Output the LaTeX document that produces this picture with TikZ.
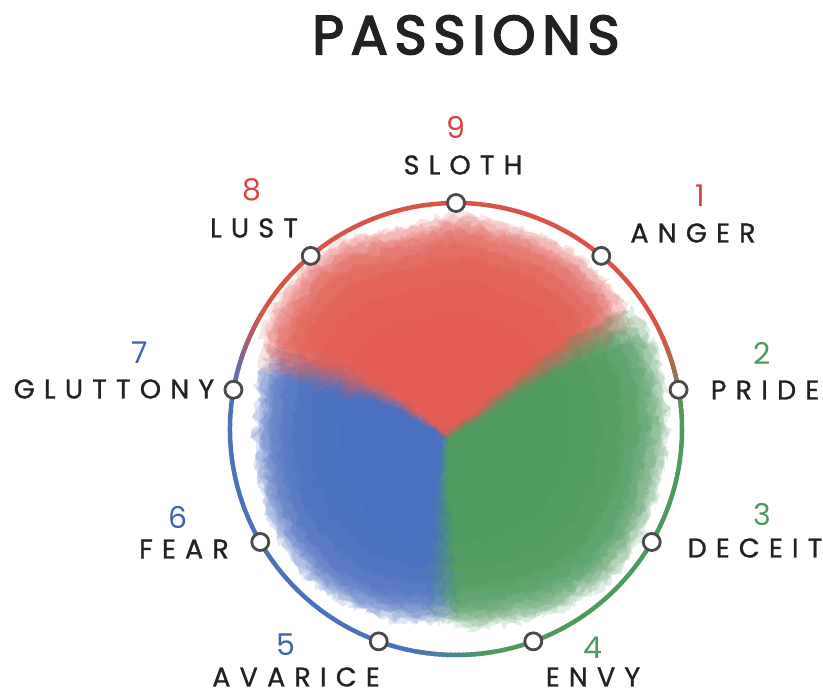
\documentclass[tikz,border=0pt]{standalone}
\usepackage{fontspec}
\setmainfont{Poppins}
\newfontfamily\labfont[LetterSpace=34,FakeBold=1]{Poppins}
\newfontfamily\titlefont[LetterSpace=12,FakeBold=3]{Poppins}
\usetikzlibrary{decorations.pathmorphing,calc}
\definecolor{ringred}{HTML}{D9534A}
\definecolor{ringgreen}{HTML}{4E9A5E}
\definecolor{ringblue}{HTML}{4A72BB}
\definecolor{blobred}{HTML}{E35D54}
\definecolor{blobgreen}{HTML}{4F9B5F}
\definecolor{blobblue}{HTML}{486FC0}
\definecolor{numred}{HTML}{D9443C}
\definecolor{numgreen}{HTML}{4E9A5E}
\definecolor{numblue}{HTML}{3E64B0}
\definecolor{ink}{HTML}{222222}
\definecolor{dotgray}{HTML}{4A4A4A}
\begin{document}
\begin{tikzpicture}[x=1pt,y=-1pt,
  dot/.style={circle,draw=dotgray,line width=2.8pt,fill=white,minimum size=17pt,inner sep=0pt},
  lab/.style={inner sep=0pt,text=ink,font=\labfont\fontsize{27}{27}\selectfont},
  num/.style={inner sep=0pt,font=\fontsize{30}{30}\selectfont},
  ring/.style={line width=4.5pt},
  cloud/.style={decorate,decoration={random steps,segment length=5pt,amplitude=5pt}}]
\useasboundingbox (0,0) rectangle (823,696);
\fill[white] (0,0) rectangle (823,696);
\coordinate (C) at (456,429);
\coordinate (B) at (445,435);
% blob
\foreach \s/\sd in {1.0/11,0.96/12,0.92/13,0.87/14,0.8/15,0.7/16,0.55/17}{
\foreach \r in {-4,0,4}{
  \pgfmathsetseed{\sd*7+\r}
  \begin{scope}[scale around={\s:(B)},rotate around={\r:(B)}]
  \fill[blobblue,opacity=0.17,cloud]
    (445,435) -- (420,420) -- (380,392) -- (330,365) -- (262,358) -- (257,400) -- (255,440) -- (262,500) -- (285,550) -- (320,590) -- (370,615) -- (420,622) -- (446,618) -- (440,560) -- (442,500) -- cycle;
  \fill[blobgreen,opacity=0.17,cloud]
    (445,435) -- (442,500) -- (438,560) -- (442,618) -- (470,628) -- (520,620) -- (570,605) -- (615,575) -- (645,530) -- (660,480) -- (668,420) -- (660,360) -- (640,318) -- (590,338) -- (540,370) -- (495,405) -- cycle;
  \fill[blobred,opacity=0.17,cloud]
    (445,438) -- (495,405) -- (540,370) -- (590,338) -- (628,312) -- (600,275) -- (570,250) -- (530,232) -- (495,224) -- (465,212) -- (430,222) -- (390,232) -- (350,240) -- (320,252) -- (290,285) -- (268,320) -- (264,356) -- (330,362) -- (380,390) -- (420,418) -- cycle;
  \end{scope}
}}
% ring
\draw[ring,ringred] (C) ++(-150:226) arc[start angle=-150,end angle=-25,radius=226];
\draw[ring,ringgreen] (C) ++(-5:226) arc[start angle=-5,end angle=80,radius=226];
\draw[ring,ringblue] (C) ++(100:226) arc[start angle=100,end angle=190,radius=226];
\foreach \i in {0,...,19}{
  \pgfmathsetmacro\p{100-5*\i}
  \draw[ring,color=ringred!\p!ringgreen] (C) ++(-25+\i:226) arc[start angle=-25+\i,delta angle=1.5,radius=226];
  \draw[ring,color=ringgreen!\p!ringblue] (C) ++(80+\i:226) arc[start angle=80+\i,delta angle=1.5,radius=226];
  \draw[ring,color=ringblue!\p!ringred] (C) ++(-170+\i:226) arc[start angle=-170+\i,delta angle=1.5,radius=226];
}
% dots
\foreach \k/\a in {9/90,1/50,2/10,3/-30,4/-70,5/-110,6/-150,7/170,8/130}
  \node[dot] (p\k) at ($(C)+(-\a:226)$) {};
% title
\node[inner sep=0pt,text=ink,font=\titlefont\fontsize{55}{55}\selectfont] (title) at (466,35) {PASSIONS};
% numbers and labels
\node[num,text=numred] (d9) at (456,127) {9};
\node[lab] (t9) at (463,165) {SLOTH};
\node[num,text=numred] (d8) at (252,190) {8};
\node[lab] (t8) at (254,228) {LUST};
\node[num,text=numred] (d1) at (700,196) {1};
\node[lab] (t1) at (693,233) {ANGER};
\node[num,text=numblue] (d7) at (140,353) {7};
\node[lab] (t7) at (114,389) {GLUTTONY};
\node[num,text=numgreen] (d2) at (762,353) {2};
\node[lab] (t2) at (765,390) {PRIDE};
\node[num,text=numblue] (d6) at (178,517) {6};
\node[lab] (t6) at (184,549) {FEAR};
\node[num,text=numgreen] (d3) at (762,515) {3};
\node[lab] (t3) at (755,548) {DECEIT};
\node[num,text=numblue] (d5) at (286,645) {5};
\node[lab] (t5) at (296,677) {AVARICE};
\node[num,text=numgreen] (d4) at (593,648) {4};
\node[lab] (t4) at (593,677) {ENVY};
\end{tikzpicture}
\end{document}
